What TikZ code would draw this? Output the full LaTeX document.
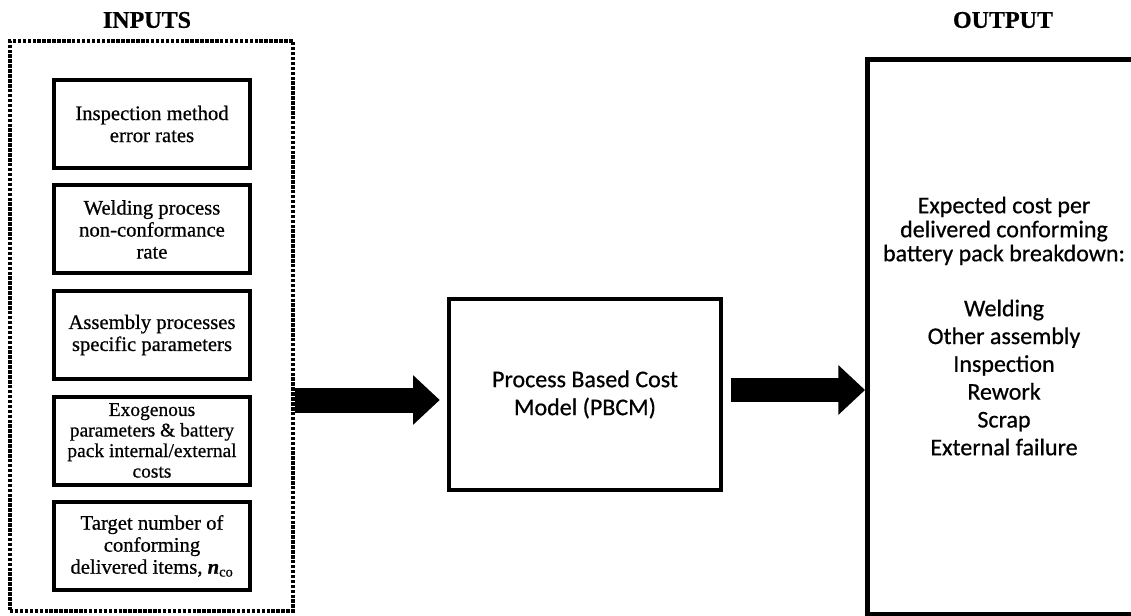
\documentclass[tikz,border=0pt]{standalone}
\usepackage{fontspec}
\setmainfont{Liberation Serif}[FakeBold=0.6]
\newfontfamily\carlito{Carlito}[FakeBold=0.6]
\usetikzlibrary{arrows.meta,calc}
\begin{document}
\begin{tikzpicture}[x=0.75pt,y=-0.75pt,
  heading/.style={font=\fontsize{18}{20}\selectfont\bfseries},
  inbox/.style={draw, line width=3pt, minimum width=147pt, minimum height=66pt,
    inner sep=0pt, align=center, font=\fontsize{15.5}{16.5}\selectfont},
  group/.style={draw, line width=2.6pt, dash pattern=on 2.6pt off 1.1pt,
    minimum width=212.25pt, minimum height=427.5pt, inner sep=0pt},
  solidbox/.style={draw, line width=3.4pt, inner sep=0pt},
  sanstext/.style={align=center, font=\carlito\fontsize{18}{18}\selectfont},
  fatarrow/.style={line width=#1, line cap=butt,
    -{Triangle[length=20pt,width=36pt]}},
]
\useasboundingbox (0,0) rectangle (1131,616);
\begin{scope}
\clip (0,0) rectangle (1131,616);

% headings
\node[heading] (intitle) at (147,20) {INPUTS};
\node[heading] (outtitle) at (1003,20) {OUTPUT};

% input group
\node[group] (inputs) at (151.5,326) {};
\node[inbox] (b1) at (152,124) {Inspection method\\error rates};
\node[inbox] (b2) at (152,229.5) {Welding process\\non-conformance\\rate};
\node[inbox] (b3) at (152,335) {Assembly processes\\specific parameters};
\node[inbox, font=\fontsize{14.6}{15.4}\selectfont] (b4) at (152,440.5)
  {Exogenous\\parameters \& battery\\pack internal/external\\costs};
\node[inbox] (b5) at (152,546)
  {Target number of\\conforming\\delivered items, \textbf{\textit{n}}\textsubscript{co}};

% model
\node[solidbox, minimum width=204pt, minimum height=143.25pt] (pbcm) at (585,394.5) {};
\node[sanstext, font=\carlito\fontsize{18}{21}\selectfont] (pbcmtext) at (pbcm.center)
  {Process Based Cost\\Model (PBCM)};

% output
\node[solidbox, line width=3.8pt, minimum width=205pt, minimum height=416.25pt] (out)
  at (1004.25,337) {};
\node[sanstext] (outtext) at (1004,326)
  {Expected cost per\\delivered conforming\\battery pack breakdown:\\[23.25pt]
   Welding\\[2.85pt] Other assembly\\[2.85pt] Inspection\\[2.85pt] Rework\\[2.85pt]
   Scrap\\[2.85pt] External failure};

% flow arrows
\draw[fatarrow=18.75pt, shorten >=5.25pt]
  ($(inputs.east |- pbcm.center)+(0,5.5)$) -- ($(pbcm.west)+(0,5.5)$);
\draw[fatarrow=18pt, shorten <=6pt]
  ($(pbcm.east)+(0,-4.5)$) -- ($(out.west |- pbcm.center)+(0,-4.5)$);
\end{scope}
\end{tikzpicture}
\end{document}
